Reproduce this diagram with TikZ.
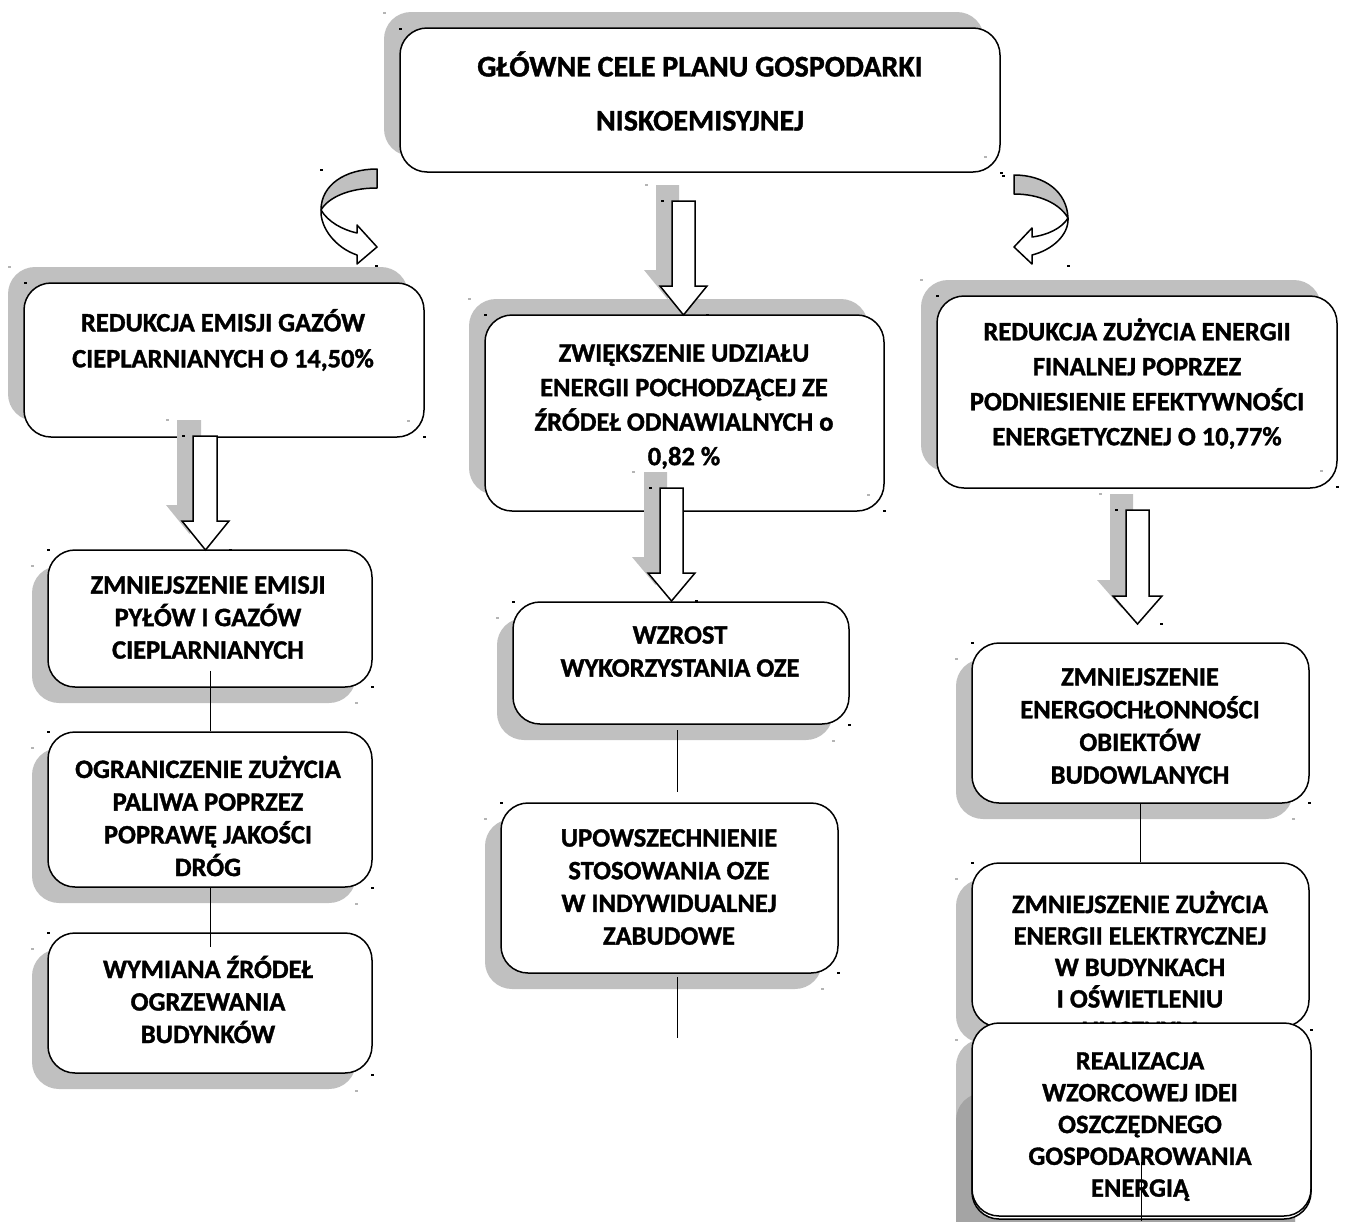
\documentclass[tikz,border=0pt]{standalone}
\usepackage{fontspec}
\setmainfont{Carlito}[BoldFeatures={FakeBold=1.3}]
\usetikzlibrary{shadows,calc}
\definecolor{shadowgray}{HTML}{C0C0C0}
\definecolor{shadowdark}{HTML}{A4A4A4}
\definecolor{dotgray}{HTML}{B4B4B4}
\tikzset{
  box/.style={draw=black, fill=white, line width=1.5pt, rounded corners=27pt, inner sep=0pt},
  shup/.style={general shadow={shadow xshift=-16pt, shadow yshift=16pt, fill=shadowgray, draw=none}},
  shdown/.style={general shadow={shadow xshift=-16pt, shadow yshift=-16pt, fill=shadowgray, draw=none}},
  txt/.style={align=center, inner sep=0pt, font=\fontsize{26.5}{33}\selectfont\bfseries},
  conn/.style={line width=1pt, draw=black},
  curvar/.style={line width=1.5pt, draw=black, line join=round},
  barrowline/.style={line width=1.5pt, draw=black, fill=white, line join=miter},
}
% block arrow: #1 shaft left, #2 shaft right, #3 top, #4 wing y, #5 wing left, #6 wing right, #7 tip y
\newcommand{\mybarrow}[7]{%
  \fill[shadowgray, xshift=-16pt, yshift=16pt] (#1,#3) -- (#2,#3) -- (#2,#4) -- (#6,#4) -- ({(#5+#6)/2},#7) -- (#5,#4) -- (#1,#4) -- cycle;
  \filldraw[barrowline] (#1,#3) -- (#2,#3) -- (#2,#4) -- (#6,#4) -- ({(#5+#6)/2},#7) -- (#5,#4) -- (#1,#4) -- cycle;
}
\newcommand{\mydotb}[2]{\fill[black] ({#1-1.5},{#2-1}) rectangle ({#1+1.5},{#2+1});}
\newcommand{\mydotg}[2]{\fill[dotgray] ({#1-1.5},{#2-1}) rectangle ({#1+1.5},{#2+1});}
\begin{document}
\begin{tikzpicture}[x=1pt,y=-1pt]
\useasboundingbox (0,0) rectangle (1346,1221);
\clip (0,0) rectangle (1346,1221);

% ---------- top box
\node[box, shup, minimum width=600pt, minimum height=144pt] (main) at (700,100) {};
\node[txt, font=\fontsize{30}{54}\selectfont\bfseries] (maint) at (700,91) {GŁÓWNE CELE PLANU GOSPODARKI\\NISKOEMISYJNEJ};

% ---------- second row
\node[box, shup, minimum width=400pt, minimum height=154pt] (b2) at (224,360) {};
\node[txt, font=\fontsize{26.5}{36}\selectfont\bfseries] (b2t) at (223,340) {REDUKCJA EMISJI GAZÓW\\CIEPLARNIANYCH O 14,50\%};

\node[box, shup, minimum width=399pt, minimum height=196pt] (b3) at (684.5,413) {};
\node[txt, font=\fontsize{26.5}{34.5}\selectfont\bfseries] (b3t) at (684,406.5) {ZWIĘKSZENIE UDZIAŁU\\ENERGII POCHODZĄCEJ ZE\\ŹRÓDEŁ ODNAWIALNYCH o\\0,82 \%};

\node[box, shup, minimum width=400pt, minimum height=192pt] (b4) at (1137,392) {};
\node[txt, font=\fontsize{26.5}{35}\selectfont\bfseries] (b4t) at (1137,383.5) {REDUKCJA ZUŻYCIA ENERGII\\FINALNEJ POPRZEZ\\PODNIESIENIE EFEKTYWNOŚCI\\ENERGETYCZNEJ O 10,77\%};

% ---------- left column
\node[box, shdown, minimum width=324pt, minimum height=137pt] (b5) at (210,618.5) {};
\node[txt, font=\fontsize{26.5}{32.5}\selectfont\bfseries] (b5t) at (208,617.5) {ZMNIEJSZENIE EMISJI\\PYŁÓW I GAZÓW\\CIEPLARNIANYCH};

\node[box, shdown, minimum width=324pt, minimum height=155pt] (b6) at (210,809.5) {};
\node[txt, font=\fontsize{26.5}{32.7}\selectfont\bfseries] (b6t) at (208,816) {OGRANICZENIE ZUŻYCIA\\PALIWA POPRZEZ\\POPRAWĘ JAKOŚCI\\DRÓG};

\node[box, shdown, minimum width=324pt, minimum height=140pt] (b7) at (210,1003) {};
\node[txt, font=\fontsize{26.5}{32.5}\selectfont\bfseries] (b7t) at (208,999.5) {WYMIANA ŹRÓDEŁ\\OGRZEWANIA\\BUDYNKÓW};

% ---------- middle column
\node[box, shdown, minimum width=336pt, minimum height=122pt] (b8) at (681,663) {};
\node[txt] (b8t) at (680,651.5) {WZROST\\WYKORZYSTANIA OZE};

\node[box, shdown, minimum width=337pt, minimum height=170pt] (b9) at (669.5,888) {};
\node[txt, font=\fontsize{26.5}{32.7}\selectfont\bfseries] (b9t) at (669,887) {UPOWSZECHNIENIE\\STOSOWANIA OZE\\W INDYWIDUALNEJ\\ZABUDOWE};

% ---------- right column
\node[box, shdown, minimum width=337pt, minimum height=160pt] (b10) at (1140.5,723) {};
\node[txt, font=\fontsize{26.5}{32.7}\selectfont\bfseries] (b10t) at (1140,726) {ZMNIEJSZENIE\\ENERGOCHŁONNOŚCI\\OBIEKTÓW\\BUDOWLANYCH};

\node[box, shdown, minimum width=337pt, minimum height=164pt] (b11) at (1140.5,945) {};
\node[txt, font=\fontsize{26.5}{31.5}\selectfont\bfseries] (b11t) at (1140,965) {ZMNIEJSZENIE ZUŻYCIA\\ENERGII ELEKTRYCZNEJ\\W BUDYNKACH\\I OŚWIETLENIU\\ULICZNYM};

\fill[shadowgray, rounded corners=27pt] (956,1039) rectangle (1295,1250);
\fill[shadowdark, rounded corners=27pt] (956,1093) rectangle (1295,1270);
\node[box, minimum width=339pt, minimum height=196pt] (b12) at (1141.5,1121) {};
\draw[line width=1.5pt, rounded corners=27pt] (972,1150) -- (972,1216) -- (1311,1216) -- (1311,1150);
\node[txt, font=\fontsize{26.5}{31.8}\selectfont\bfseries] (b12t) at (1140,1126.5) {REALIZACJA\\WZORCOWEJ IDEI\\OSZCZĘDNEGO\\GOSPODAROWANIA\\ENERGIĄ};

% ---------- connectors
\draw[conn] ([yshift=17pt]b5.south) -- (b6.north);
\draw[conn] (b6.south) -- ([yshift=-15pt]b7.north);
\coordinate (m1) at (677,730);
\coordinate (m2) at (677,792);
\coordinate (m3) at (677,977);
\coordinate (m4) at (677,1038);
\draw[conn] (m1) -- (m2);
\draw[conn] (m3) -- (m4);
\draw[conn] (b10.south) -- (b11.north);
\coordinate (r1) at (1141,1162);
\coordinate (r2) at (1141,1221);
\draw[conn] (r1) -- (r2);

% ---------- block arrows
\mybarrow{672}{695}{201}{286}{660}{707}{315}
\mybarrow{193}{217}{436}{521}{182}{229}{550}
\mybarrow{660}{683}{488}{573}{648}{695}{601}
\mybarrow{1126}{1149}{510}{596}{1113}{1162}{624}

% ---------- curved arrows
\filldraw[curvar, fill=white] (321,210) .. controls (328,222) and (343,230) .. (357,233) -- (357,225) -- (377,247) -- (357,264) -- (357,255) .. controls (336,248) and (320,228) .. (321,210) -- cycle;
\filldraw[curvar, fill=shadowgray] (377,169) .. controls (345,169) and (321,185) .. (321,210) .. controls (328,198) and (348,188) .. (377,188) -- cycle;

\filldraw[curvar, fill=white] (1068,218) .. controls (1062,228) and (1048,235) .. (1032,237) -- (1032,228) -- (1014,247) -- (1032,264) -- (1032,255) .. controls (1052,250) and (1069,235) .. (1068,218) -- cycle;
\filldraw[curvar, fill=shadowgray] (1014,175) .. controls (1045,175) and (1067,192) .. (1068,218) .. controls (1060,204) and (1040,194) .. (1014,194) -- cycle;

% ---------- small anchor marks
\foreach \p/\q in {400/29,1001/173,25/283,424/437,485/315,884/511,937/296,1337/487,
  48/550,372/687,48/732,372/888,48/933,372/1075,513/602,849/725,501/803,838/973,
  972/643,1309/803,972/863,1311/1030,662/201,707/315,183/436,230/550,650/488,696/601,
  1116/510,1161/624,321/170,376/266,1003/176,1068/266}{\mydotb{\p}{\q}}
\foreach \p/\q in {384/13,985/157,9/267,408/421,469/299,868/495,921/280,1321/471,
  32/566,356/703,32/748,356/904,32/949,356/1091,497/618,833/741,485/819,822/989,
  956/659,1293/819,956/879,956/1040,646/185,167/420,633/472,1100/494}{\mydotg{\p}{\q}}
\end{tikzpicture}
\end{document}
